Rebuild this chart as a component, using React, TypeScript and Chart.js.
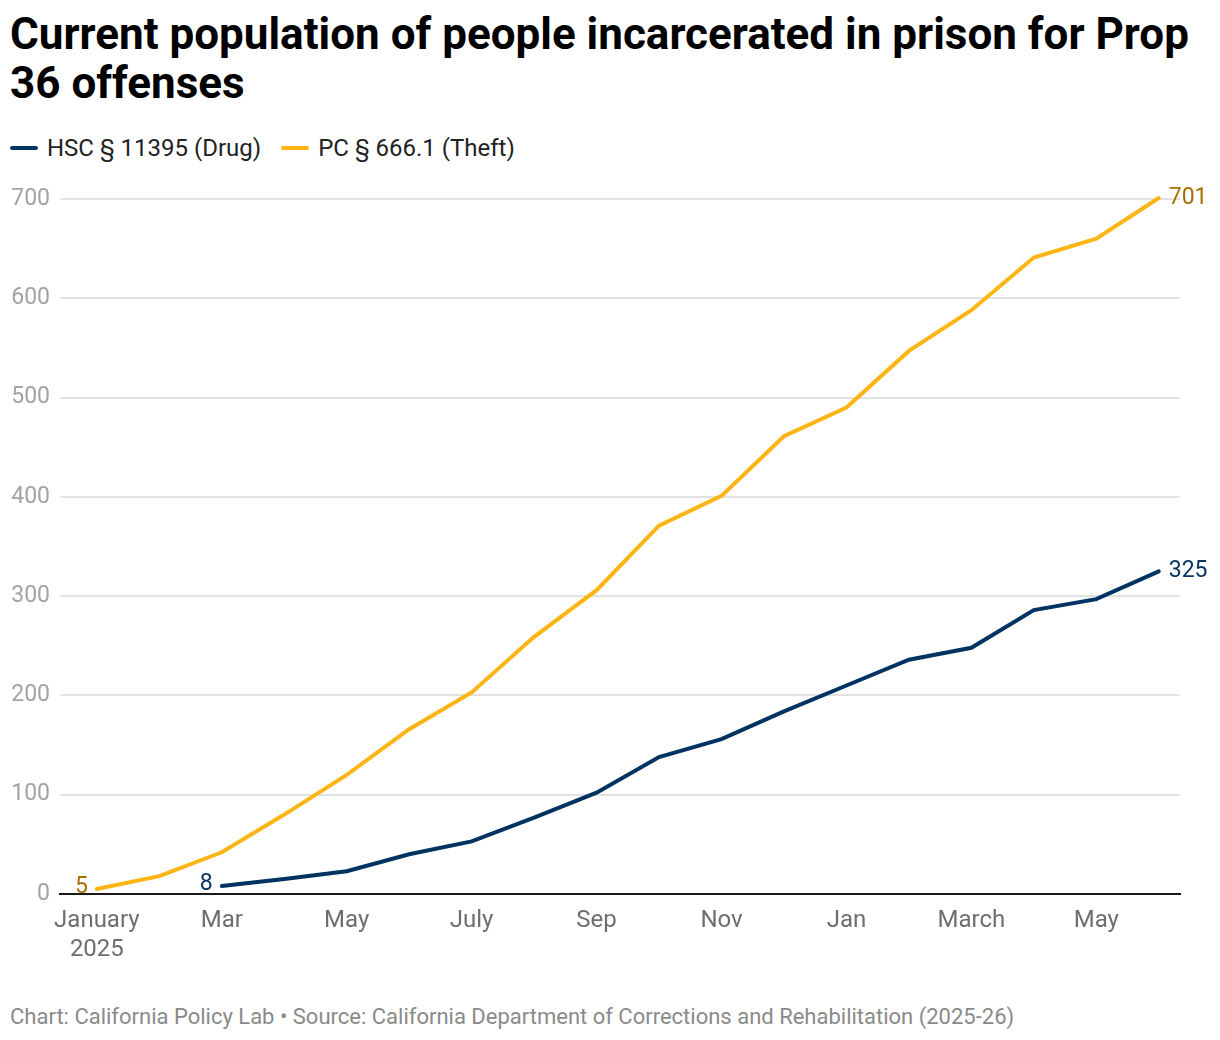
import { useEffect, useRef } from "react";
import { Chart, registerables } from "chart.js";

Chart.register(...registerables);

// month labels, Jan 2025 .. Jun 2026
const months: (string | string[])[] = [
  ["January", "2025"], "Feb", "Mar", "Apr", "May", "June", "July", "Aug", "Sep",
  "Oct", "Nov", "Dec", "Jan", "Feb", "March", "Apr", "May", "June",
];

const drug: (number | null)[] = [
  null, null, 8, 15, 23, 40, 53, 77, 102, 138, 156, 184, 210, 236, 248, 286, 297, 325,
];
const theft: (number | null)[] = [
  5, 18, 42, 80, 120, 166, 203, 259, 306, 371, 401, 461, 490, 547, 588, 641, 660, 701,
];

const seriesNames = ["HSC § 11395 (Drug)", "PC § 666.1 (Theft)"];
const seriesColors = ["#003262", "#FDB515"];
const labelColors = ["#0b3463", "#a86f00"];
const yTicks = [0, 100, 200, 300, 400, 500, 600, 700];

const FONT = "Roboto, 'Noto Sans', sans-serif";

// first and last value written next to each line
const endLabels = {
  id: "endLabels",
  afterDatasetsDraw(chart: any) {
    const ctx = chart.ctx;
    chart.data.datasets.forEach((ds: any, i: number) => {
      const meta = chart.getDatasetMeta(i);
      const vals = ds.data.map((d: any) => d.y);
      const first = vals.findIndex((v: any) => v != null);
      let last = vals.length - 1;
      while (last > 0 && vals[last] == null) last--;
      const p0 = meta.data[first];
      const p1 = meta.data[last];
      ctx.save();
      ctx.font = `23px ${FONT}`;
      ctx.fillStyle = labelColors[i];
      ctx.textBaseline = "middle";
      ctx.textAlign = "right";
      ctx.fillText(String(vals[first]), p0.x - 9, p0.y - 2);
      ctx.textAlign = "left";
      ctx.fillText(String(vals[last]), p1.x + 10, p1.y);
      ctx.restore();
    });
  },
};

function PrisonChart() {
  const canvasRef = useRef<HTMLCanvasElement>(null);
  const chartRef = useRef<Chart | null>(null);

  useEffect(() => {
    const el = canvasRef.current;
    if (!el) return;
    chartRef.current?.destroy();

    const series = [drug, theft];
    chartRef.current = new Chart(el, {
      type: "line",
      data: {
        datasets: series.map((vals, i) => ({
          label: seriesNames[i],
          data: vals.map((v, j) => ({ x: j, y: v })),
          borderColor: seriesColors[i],
          backgroundColor: seriesColors[i],
          borderWidth: 4,
          pointRadius: 0,
          tension: 0,
          clip: false as any,
          borderCapStyle: "round" as const,
        })),
      },
      options: {
        animation: false,
        responsive: true,
        maintainAspectRatio: false,
        layout: { padding: { top: 39, right: 40, left: 0, bottom: 0 } },
        plugins: {
          legend: { display: false },
          tooltip: { enabled: false },
        },
        scales: {
          x: {
            type: "linear",
            min: -0.59,
            max: 17.34,
            grid: { display: false, drawTicks: false },
            border: { display: true, color: "#1a1a1a", width: 2 },
            afterBuildTicks: (axis: any) => {
              axis.ticks = months
                .map((_, i) => i)
                .filter((i) => i % 2 === 0)
                .map((v) => ({ value: v }));
            },
            afterFit: (s: any) => {
              s.height = 86;
            },
            ticks: {
              color: "#6e6e6e",
              font: { family: FONT, size: 24, lineHeight: 1.2 },
              padding: 13,
              maxRotation: 0,
              autoSkip: false,
              callback: (v: any) => months[v as number],
            },
          },
          y: {
            min: 0,
            max: 700,
            grid: { color: "#e2e2e2", lineWidth: 2, drawTicks: false },
            border: { display: false },
            afterBuildTicks: (axis: any) => {
              axis.ticks = yTicks.map((v) => ({ value: v }));
            },
            afterFit: (s: any) => {
              s.width = 60;
            },
            ticks: {
              color: "#a3a3a3",
              font: { family: FONT, size: 23 },
              padding: 10,
            },
          },
        },
      },
      plugins: [endLabels],
    });

    return () => {
      chartRef.current?.destroy();
      chartRef.current = null;
    };
  }, []);

  return (
    <div style={{ position: "absolute", left: 0, top: 160, width: 1220, height: 820 }}>
      <canvas ref={canvasRef} />
    </div>
  );
}

export default function App() {
  return (
    <div
      style={{
        position: "absolute",
        left: 0,
        top: 0,
        width: 1220,
        height: 1040,
        background: "#fff",
        fontFamily: FONT,
      }}
    >
      <div
        style={{
          position: "absolute",
          left: 10,
          top: 10,
          width: 1205,
          fontSize: 44,
          lineHeight: "49px",
          fontWeight: 700,
          color: "#000",
        }}
      >
        Current population of people incarcerated in prison for Prop 36 offenses
      </div>
      <div
        style={{
          position: "absolute",
          left: 10,
          top: 134,
          display: "flex",
          alignItems: "center",
          fontSize: 24,
          lineHeight: "28px",
          color: "#222",
        }}
      >
        {seriesNames.map((name, i) => (
          <div key={name} style={{ display: "flex", alignItems: "center", marginRight: 20 }}>
            <span
              style={{
                display: "inline-block",
                width: 28,
                height: 4,
                borderRadius: 2,
                background: seriesColors[i],
                marginRight: 9,
              }}
            />
            {name}
          </div>
        ))}
      </div>
      <PrisonChart />
      <div
        style={{
          position: "absolute",
          left: 10,
          top: 1003,
          fontSize: 22,
          lineHeight: "28px",
          color: "#8a8a8a",
        }}
      >
        Chart: California Policy Lab • Source: California Department of Corrections and Rehabilitation (2025-26)
      </div>
    </div>
  );
}
